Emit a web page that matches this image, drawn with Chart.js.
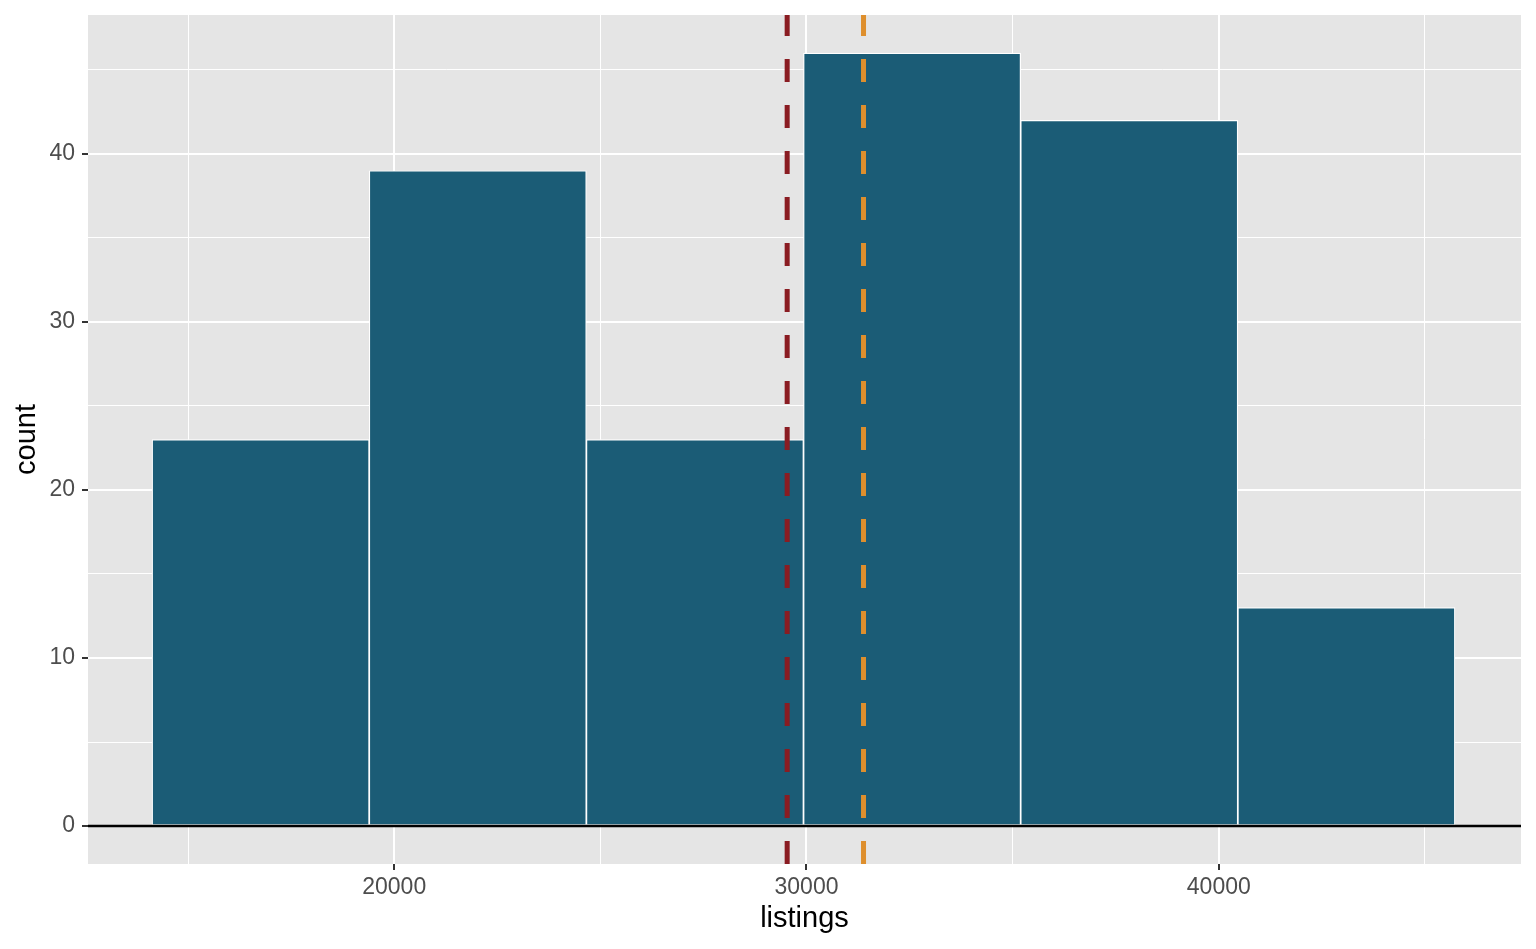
<!DOCTYPE html>
<html>
<head>
<meta charset="utf-8">
<script src="https://cdn.jsdelivr.net/npm/chart.js@4.4.1/dist/chart.umd.min.js"></script>
<style>
  html, body { margin: 0; padding: 0; background: #fff; }
  #wrap { width: 1536px; height: 949px; }
</style>
</head>
<body>
<div id="wrap"><canvas id="hist" width="1536" height="949"></canvas></div>
<script>
// histogram bins (centre of each bin) and counts
const binCenters = [16760, 22027, 27294, 32561, 37828, 43095];
const counts = [23, 39, 23, 46, 42, 13];

// reference lines
const medianValue = 29531;
const meanValue = 31383;
const baseline = [0];

// ticks
const xMajorTicks = [20000, 30000, 40000];
const xMinorTicks = [15000, 25000, 35000, 45000];
const yMajorTicks = [0, 10, 20, 30, 40];
const yMinorTicks = [5, 15, 25, 35, 45];

// panel limits
const xMin = 12573, xMax = 47330;
const yMin = -2.26, yMax = 48.27;

const FONT = "'Liberation Sans', Arial, sans-serif";

const panelBg = {
  id: "panelBg",
  beforeDraw(chart) {
    const { ctx, chartArea: a } = chart;
    ctx.save();
    ctx.fillStyle = "#E5E5E5";
    ctx.fillRect(a.left, a.top, a.right - a.left, a.bottom - a.top);
    ctx.restore();
  }
};

function setTicks(majors, minors) {
  return (scale) => {
    scale.ticks = majors.concat(minors).sort((a, b) => a - b).map(v => ({ value: v }));
  };
}

const ctx = document.getElementById("hist").getContext("2d");
new Chart(ctx, {
  type: "bar",
  data: {
    datasets: [
      {
        type: "line",
        data: [{ x: medianValue, y: yMin }, { x: medianValue, y: yMax }],
        borderColor: "#8A1C22",
        borderWidth: 5,
        borderDash: [23, 23],
        borderCapStyle: "butt",
        pointRadius: 0,
        order: 0
      },
      {
        type: "line",
        data: [{ x: meanValue, y: yMin }, { x: meanValue, y: yMax }],
        borderColor: "#DE8F2D",
        borderWidth: 5,
        borderDash: [23, 23],
        borderCapStyle: "butt",
        pointRadius: 0,
        order: 1
      },
      {
        type: "line",
        data: [{ x: xMin, y: baseline[0] }, { x: xMax, y: baseline[0] }],
        borderColor: "#000000",
        borderWidth: 2.5,
        pointRadius: 0,
        order: 2
      },
      {
        type: "bar",
        xAxisID: "xBins",
        data: binCenters.map((c, i) => ({ x: c, y: counts[i] })),
        backgroundColor: "#1B5C76",
        borderColor: "#FFFFFF",
        borderWidth: 1.2,
        borderSkipped: false,
        barPercentage: 1,
        categoryPercentage: 1,
        order: 3
      }
    ]
  },
  options: {
    responsive: false,
    animation: false,
    events: [],
    layout: { padding: { left: 0, top: 15, right: 15, bottom: 0 } },
    plugins: { legend: { display: false }, tooltip: { enabled: false } },
    scales: {
      // hidden twin of x, without ticks, so the bar width comes from bin spacing
      xBins: {
        type: "linear",
        display: false,
        position: "bottom",
        min: xMin,
        max: xMax,
        offset: false,
        afterBuildTicks: (s) => { s.ticks = []; },
        grid: { offset: false }
      },
      x: {
        type: "linear",
        min: xMin,
        max: xMax,
        offset: false,
        afterBuildTicks: setTicks(xMajorTicks, xMinorTicks),
        afterFit: (s) => { s.height = 85; },
        border: { display: false },
        grid: {
          offset: false,
          color: "#FFFFFF",
          lineWidth: (c) => xMajorTicks.includes(c.tick.value) ? 2 : 1,
          tickColor: (c) => xMajorTicks.includes(c.tick.value) ? "#333333" : "rgba(0,0,0,0)",
          tickLength: 6,
          tickWidth: 2
        },
        ticks: {
          autoSkip: false,
          maxRotation: 0,
          padding: 4,
          color: "#4D4D4D",
          font: { family: FONT, size: 23 },
          callback: (v) => xMajorTicks.includes(v) ? String(v) : ""
        },
        title: {
          display: true,
          text: "listings",
          color: "#000000",
          padding: { top: 0, bottom: 13 },
          font: { family: FONT, size: 29 }
        }
      },
      y: {
        type: "linear",
        min: yMin,
        max: yMax,
        afterBuildTicks: setTicks(yMajorTicks, yMinorTicks),
        afterFit: (s) => { s.width = 88; },
        border: { display: false },
        grid: {
          color: "#FFFFFF",
          lineWidth: (c) => yMajorTicks.includes(c.tick.value) ? 2 : 1,
          tickColor: (c) => yMajorTicks.includes(c.tick.value) ? "#333333" : "rgba(0,0,0,0)",
          tickLength: 6,
          tickWidth: 2
        },
        ticks: {
          autoSkip: false,
          padding: 7,
          color: "#4D4D4D",
          font: { family: FONT, size: 23, lineHeight: 0.5 },
          callback: (v) => yMajorTicks.includes(v) ? String(v) : ""
        },
        title: {
          display: true,
          text: "count",
          color: "#000000",
          padding: { top: 10, bottom: 0 },
          font: { family: FONT, size: 29 }
        }
      }
    }
  },
  plugins: [panelBg]
});
</script>
</body>
</html>
